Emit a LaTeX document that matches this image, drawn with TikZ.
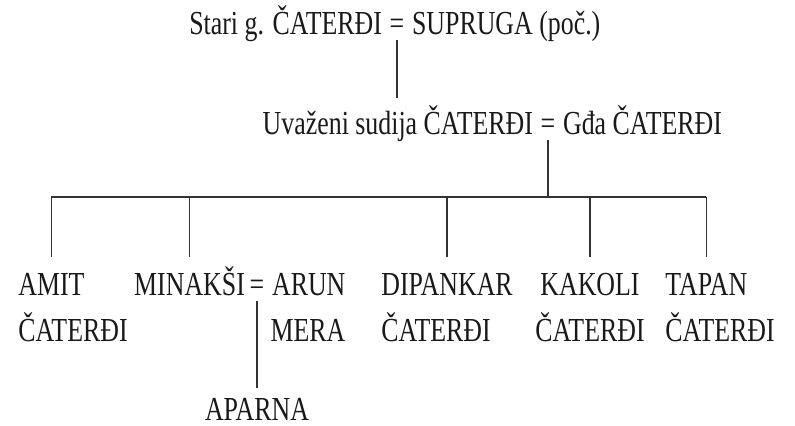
\documentclass[tikz,border=0pt]{standalone}
\usepackage{fontspec}
\setmainfont{Liberation Serif}[FakeStretch=0.77]
\usepackage{tikz}
\usetikzlibrary{positioning}

\begin{document}
\begin{tikzpicture}[
    x=0.5pt, y=-0.5pt,
    every node/.style={font=\fontsize{16.8}{20}\selectfont, text=black!90},
    kin/.style={inner xsep=0pt, inner ysep=8pt, text height=11.5pt, text depth=0pt},
    marr/.style={inner xsep=0pt, inner ysep=2.5pt, text height=16pt, text depth=0pt},
    link/.style={draw=black!80, line width=0.6pt},
]
    \useasboundingbox (0,0) rectangle (795,426);

    \node[marr, anchor=base] (eq1) at (397,35) {=};
    \node[kin, base left=3.5pt of eq1] (stari) {Stari g. ČATERĐI};
    \node[kin, base right=3.5pt of eq1] (supruga) {SUPRUGA (poč.)};

    \node[marr, anchor=base] (eq2) at (548,135) {=};
    \node[marr, base left=3.5pt of eq2] (sudija) {Uvaženi sudija ČATERĐI};
    \node[kin, base right=3.5pt of eq2] (gdja) {Gđa ČATERĐI};

    \coordinate (bar) at (0,197);

    \node[kin, anchor=base west] (amit) at (18,296) {AMIT};
    \node[kin, anchor=base west] (amitS) at ([yshift=-23pt]amit.base west) {ČATERĐI};

    \node[marr, anchor=base] (eq3) at (257,296) {=};
    \node[kin, base left=2pt of eq3] (minaksi) {MINAKŠI};
    \node[kin, base right=3.5pt of eq3] (arun) {ARUN};
    \node[kin, anchor=base east] (mera) at ([yshift=-23pt]arun.base east) {MERA};
    \node[kin, inner ysep=4.5pt, anchor=base] (aparna) at ([yshift=-62pt]eq3.base) {APARNA};

    \node[kin, anchor=base west] (dipankar) at (381,296) {DIPANKAR};
    \node[kin, anchor=base west] (dipankarS) at ([yshift=-23pt]dipankar.base west) {ČATERĐI};

    \node[kin, anchor=base west] (kakoli) at (540,296) {KAKOLI};
    \node[kin, anchor=base] (kakoliS) at ([yshift=-23pt]kakoli.base) {ČATERĐI};

    \node[kin, anchor=base west] (tapan) at (665,296) {TAPAN};
    \node[kin, anchor=base west] (tapanS) at ([yshift=-23pt]tapan.base west) {ČATERĐI};

    \draw[link] (eq1.south) -- (eq1.south |- sudija.north);
    \draw[link] (eq2.south) -- (eq2.south |- bar);
    \draw[link] (amit.north |- bar) -- (tapan.north |- bar);
    \foreach \kid in {amit, minaksi, dipankar, kakoli, tapan}
        \draw[link] (\kid.north |- bar) -- (\kid.north);
    \draw[link] (eq3.south) -- (aparna.north);
\end{tikzpicture}
\end{document}
